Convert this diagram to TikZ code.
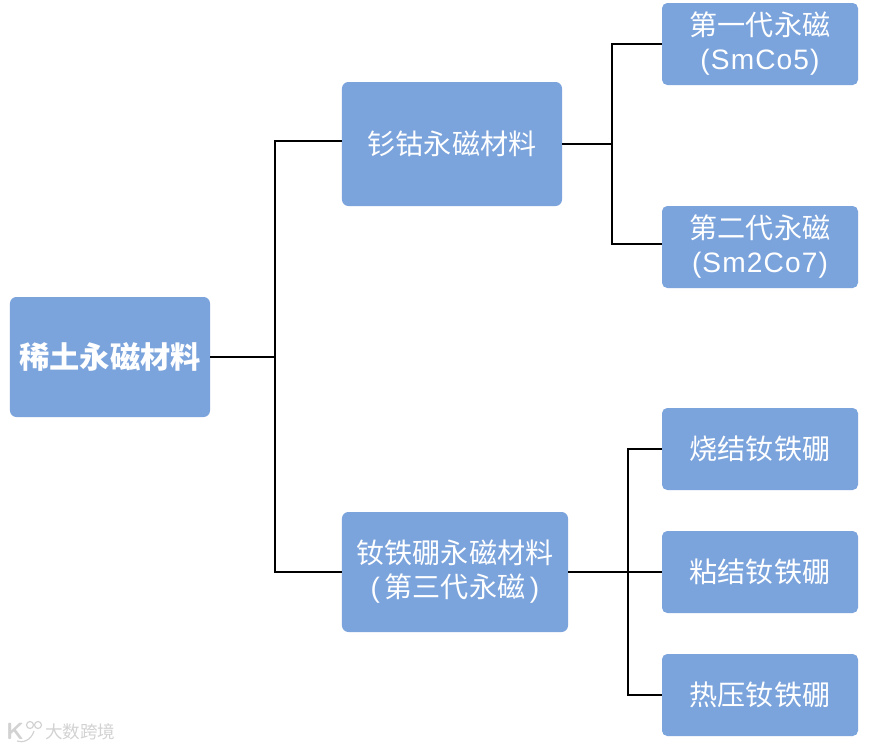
\documentclass[tikz,border=0pt]{standalone}
\usepackage{fontspec}
\setmainfont{Liberation Sans}
\newfontfamily\cjk{Noto Sans CJK SC}
\newfontfamily\latinwide[LetterSpace=4]{Liberation Sans}
\usepackage{tikz}
\usetikzlibrary{positioning,calc}
\definecolor{boxblue}{HTML}{7BA3DC}
\begin{document}
\begin{tikzpicture}[
  x=0.03cm, y=-0.03cm,
  box/.style={rectangle, fill=boxblue, text=white, align=center, rounded corners=5.5pt, inner sep=0pt, font=\cjk\fontsize{24}{29}\selectfont},
  leaf/.style={box, rounded corners=4.5pt, minimum width=5.88cm, minimum height=2.46cm},
  link/.style={line width=1.7pt, black},
  brandmark/.style={text=gray!35, inner sep=0pt, font=\cjk\fontsize{15}{16}\selectfont},
  logoline/.style={gray!35, line width=1pt},
]
  \useasboundingbox (0,0) rectangle (885,749);

  % Root
  \node[box, minimum width=6cm, minimum height=3.6cm, font=\cjk\bfseries\fontsize{25.8}{30}\selectfont] at (110,357) (root) {稀土永磁材料};

  % Middle level
  \node[box, minimum width=6.6cm, minimum height=3.72cm] at (452,144) (smco) {钐钴永磁材料};
  \node[box, minimum width=6.78cm, minimum height=3.6cm] at (455,572) (ndfeb) {钕铁硼永磁材料\\{\latinwide(\,}第三代永磁{\latinwide\,)}};

  % Leaves
  \node[leaf] at (760,44) (first) {第一代永磁\\{\latinwide(SmCo5)}};
  \node[leaf] at (760,247) (second) {第二代永磁\\{\latinwide(Sm2Co7)}};
  \node[leaf] at (760,449) (sinter) {烧结钕铁硼};
  \node[leaf] at (760,572) (bond) {粘结钕铁硼};
  \node[leaf] at (760,695) (press) {热压钕铁硼};

  % Joints
  \coordinate (rootjoint) at (275,357);
  \coordinate (smjoint) at (612,144);
  \coordinate (ndjoint) at (628,572);

  % Connectors
  \draw[link] (root.east) -- (rootjoint);
  \draw[link] ([yshift=0.09cm]smco.west) -| (rootjoint) |- (ndfeb.west);
  \draw[link] (smco.east) -- (smjoint);
  \draw[link] (first.west) -| (smjoint) |- ([yshift=0.09cm]second.west);
  \draw[link] (ndfeb.east) -- (bond.west);
  \draw[link] (sinter.west) -| (ndjoint) |- (press.west);

  % Watermark
  \node[brandmark, font=\sffamily\bfseries\fontsize{20}{20}\selectfont] at (15,731) (logo) {K};
  \draw[logoline] (34,731) .. controls (31,741) and (22,743) .. (17,741);
  \draw[logoline] (30,725) circle (3.5);
  \draw[logoline] (38,725) circle (3.5);
  \node[brandmark, anchor=west] at (45,732) (brand) {大数跨境};
\end{tikzpicture}
\end{document}
